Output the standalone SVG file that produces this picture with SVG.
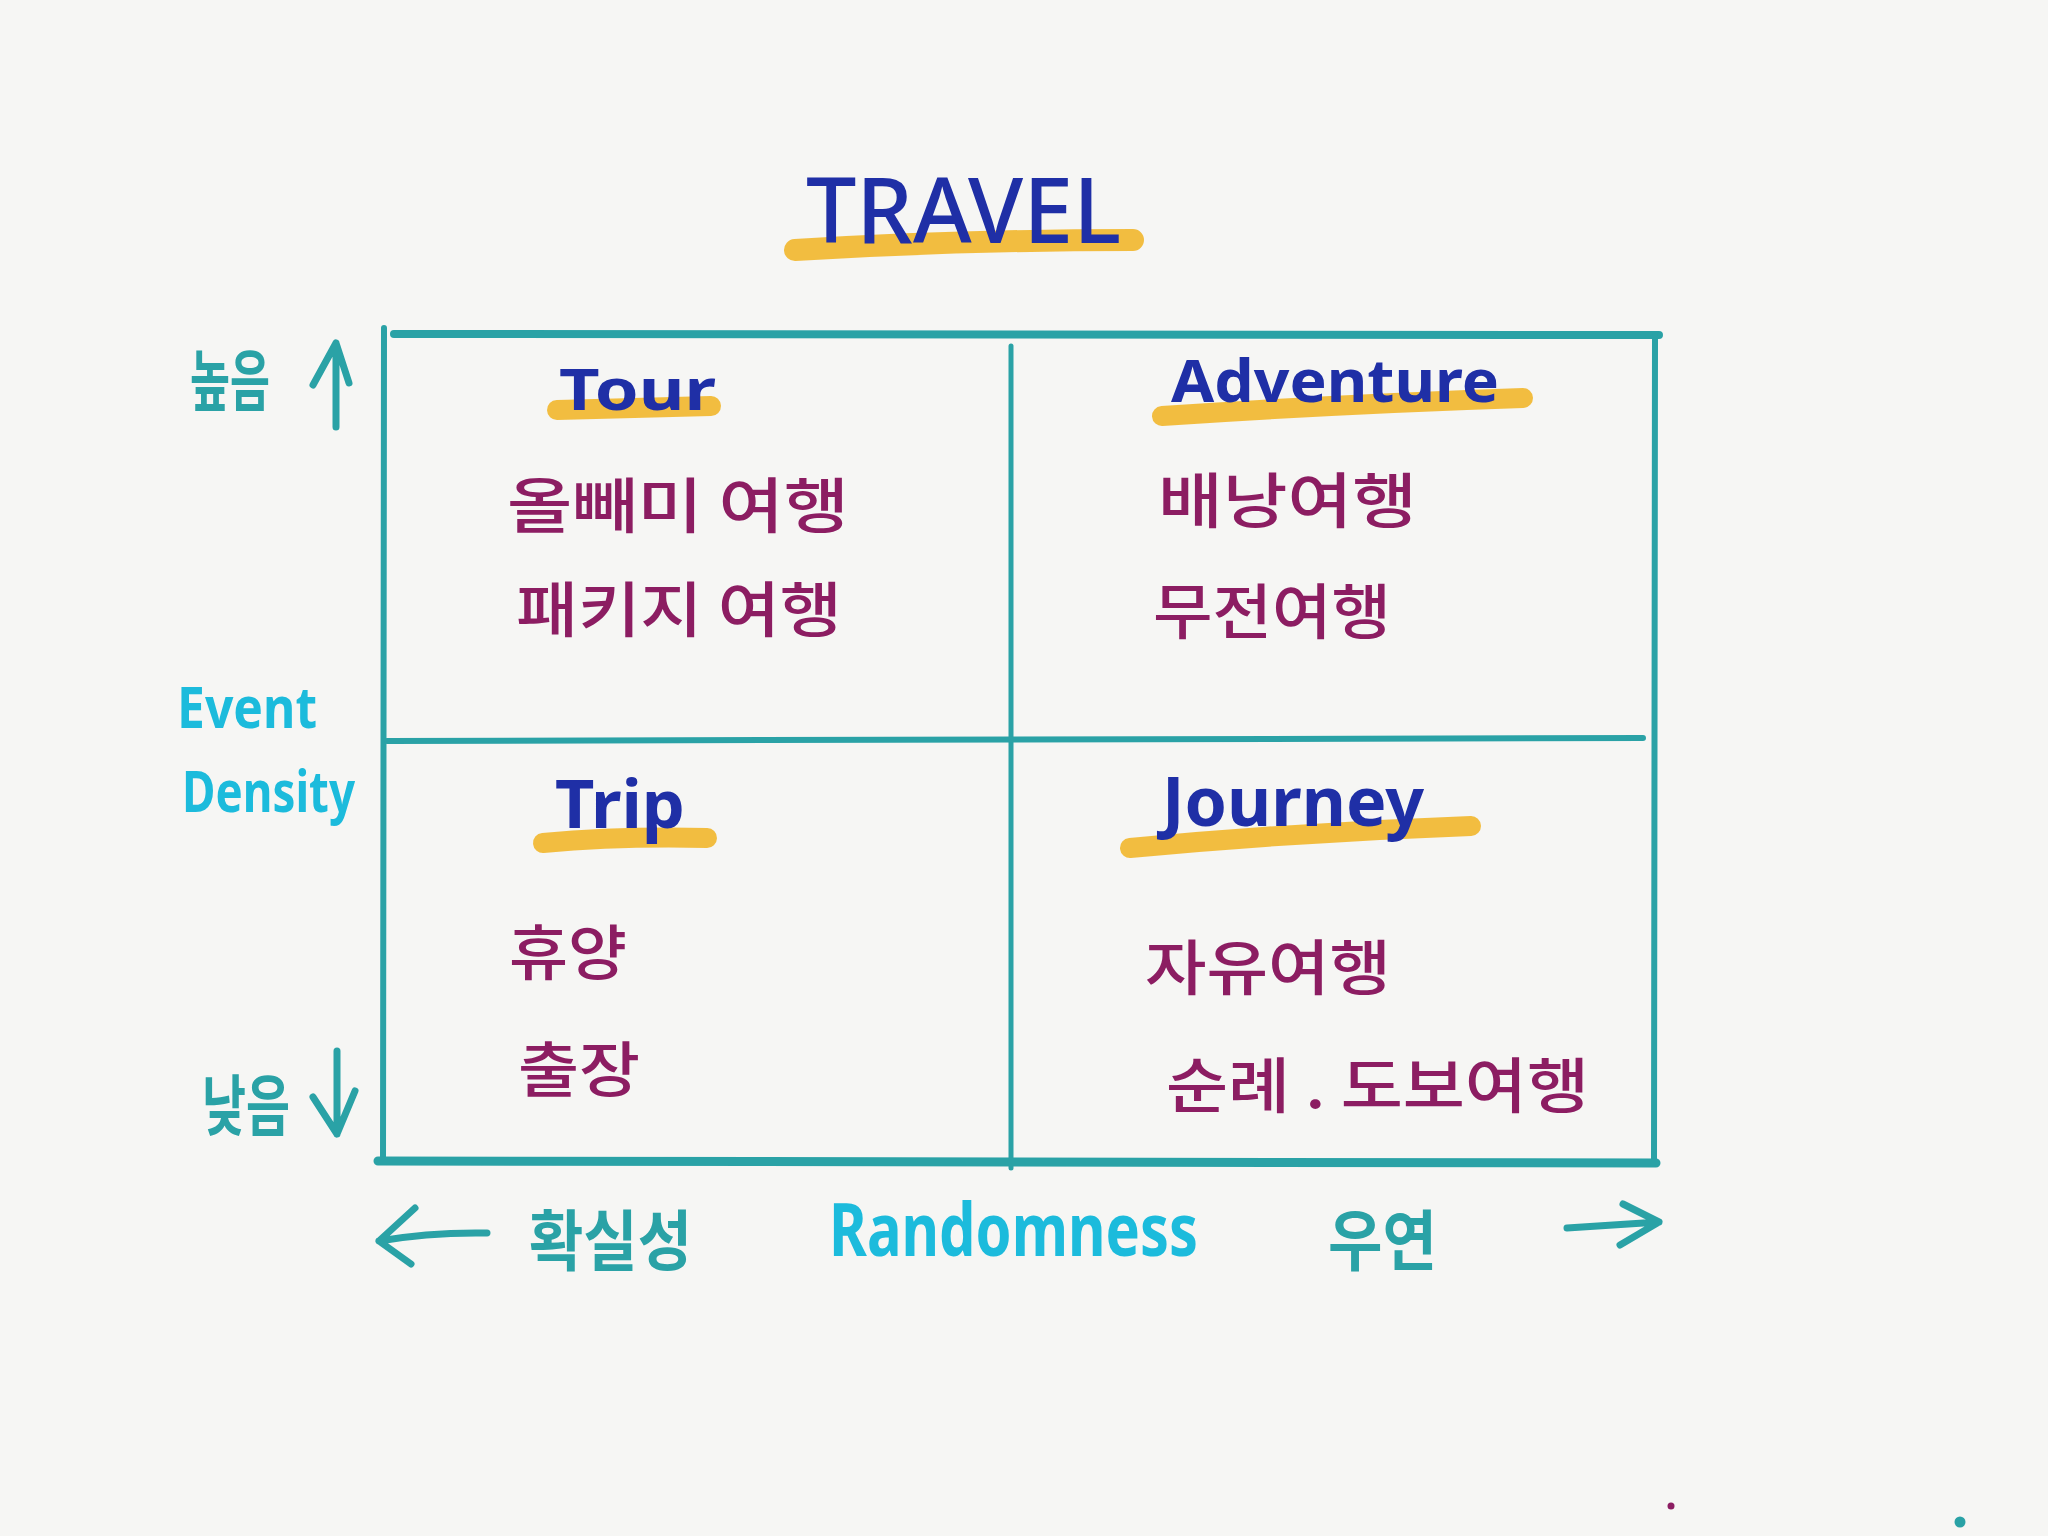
<svg xmlns="http://www.w3.org/2000/svg" width="2048" height="1536" viewBox="0 0 2048 1536">
  <style>
    .hl { stroke: #f2b72c; stroke-width: 20; stroke-linecap: round; fill: none; opacity: 0.9; }
    .en { font-family: "Noto Sans", "Liberation Sans", sans-serif; font-weight: 700; fill: #1f2fa6; }
    .ko { font-family: "Noto Sans CJK KR", sans-serif; font-weight: 500; fill: #8c1d62; font-size: 60px; }
    .axk { font-family: "Noto Sans CJK KR", sans-serif; font-weight: 700; fill: #2aa2a6; font-size: 66px; }
    .axe { font-family: "Noto Sans", "Liberation Sans", sans-serif; font-weight: 700; fill: #1cbbdc; }
    .grid { stroke: #2aa2a6; fill: none; stroke-linecap: round; }
    .arr { stroke: #2aa2a6; stroke-width: 7; fill: none; stroke-linecap: round; stroke-linejoin: round; }
  </style>
  <rect width="2048" height="1536" fill="#f6f6f4"/>

  <g id="title">
    <path class="hl" d="M795 250 Q960 240 1133 240" style="stroke-width:22"/>
    <text class="en" x="806" y="243" font-size="90" textLength="315" lengthAdjust="spacingAndGlyphs" style="font-weight:500">TRAVEL</text>
  </g>

  <g id="connectors">
    <path class="grid" stroke-width="8" d="M394 334 L1659 335"/>
    <path class="grid" stroke-width="6" d="M384 328 L383 1162"/>
    <path class="grid" stroke-width="6" d="M1655 336 L1654 1160"/>
    <path class="grid" stroke-width="9" d="M378 1161 L1656 1163"/>
    <path class="grid" stroke-width="5" d="M1011 346 L1011 1168"/>
    <path class="grid" stroke-width="6" d="M387 741 L1643 738"/>
    <path class="arr" d="M336 427 L336 343 M313 385 L336 343 L349 383"/>
    <path class="arr" d="M337 1051 L337 1134 M313 1097 L337 1134 L355 1091"/>
    <path class="arr" d="M379 1241 Q430 1232 487 1233 M415 1208 L379 1241 L411 1264"/>
    <path class="arr" d="M1567 1228 L1659 1222 M1623 1204 L1659 1222 L1620 1245"/>
  </g>

  <g id="tour">
    <path class="hl" d="M557 410 L711 406"/>
    <text class="en" x="559" y="410" font-size="58" textLength="157" lengthAdjust="spacingAndGlyphs">Tour</text>
    <text class="ko" x="507" y="528" textLength="342" lengthAdjust="spacingAndGlyphs">올빼미 여행</text>
    <text class="ko" x="516" y="632" textLength="326" lengthAdjust="spacingAndGlyphs">패키지 여행</text>
  </g>

  <g id="adventure">
    <path class="hl" d="M1162 416 Q1340 404 1523 398"/>
    <text class="en" x="1171" y="402" font-size="60" textLength="328" lengthAdjust="spacingAndGlyphs">Adventure</text>
    <text class="ko" x="1158" y="523" textLength="259" lengthAdjust="spacingAndGlyphs">배낭여행</text>
    <text class="ko" x="1153" y="634" textLength="238" lengthAdjust="spacingAndGlyphs">무전여행</text>
  </g>

  <g id="trip">
    <path class="hl" d="M543 843 Q620 836 707 838"/>
    <text class="en" x="555" y="828" font-size="66" textLength="130" lengthAdjust="spacingAndGlyphs">Trip</text>
    <text class="ko" x="509" y="975" textLength="118" lengthAdjust="spacingAndGlyphs">휴양</text>
    <text class="ko" x="518" y="1092" textLength="122" lengthAdjust="spacingAndGlyphs">출장</text>
  </g>

  <g id="journey">
    <path class="hl" d="M1130 848 Q1300 832 1471 826"/>
    <text class="en" x="1162" y="826" font-size="68" textLength="262" lengthAdjust="spacingAndGlyphs">Journey</text>
    <text class="ko" x="1145" y="990" textLength="246" lengthAdjust="spacingAndGlyphs">자유여행</text>
    <text class="ko" x="1166" y="1108" textLength="423" lengthAdjust="spacingAndGlyphs">순례 . 도보여행</text>
  </g>

  <g id="y-axis">
    <text class="axk" x="190" y="405" textLength="80" lengthAdjust="spacingAndGlyphs">높음</text>
    <text class="axe" x="177" y="728" font-size="58" textLength="140" lengthAdjust="spacingAndGlyphs">Event</text>
    <text class="axe" x="182" y="812" font-size="58" textLength="173" lengthAdjust="spacingAndGlyphs">Density</text>
    <text class="axk" x="202" y="1130" textLength="88" lengthAdjust="spacingAndGlyphs">낮음</text>
  </g>

  <g id="x-axis">
    <text class="axk" x="529" y="1265" textLength="163" lengthAdjust="spacingAndGlyphs">확실성</text>
    <text class="axe" x="829" y="1256" font-size="74" textLength="369" lengthAdjust="spacingAndGlyphs">Randomness</text>
    <text class="axk" x="1328" y="1265" textLength="109" lengthAdjust="spacingAndGlyphs">우연</text>
  </g>

  <circle cx="1671" cy="1506" r="3.5" fill="#8c1d62"/>
  <circle cx="1960" cy="1522" r="5.5" fill="#2aa2a6"/>
</svg>
